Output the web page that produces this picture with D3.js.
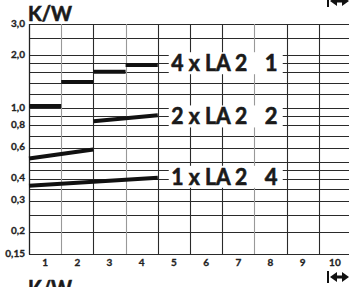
<!DOCTYPE html>
<html><head><meta charset="utf-8">
<script src="https://cdn.jsdelivr.net/npm/d3@7"></script>
<style>html,body{margin:0;padding:0;background:#fff;overflow:hidden}</style>
</head><body><svg id="c" width="349" height="287"></svg>
<script>
// ---- data ----
const xTickLabels = ["1","2","3","4","5","6","7","8","9","10"];
const yTickValues = [3, 2, 1, 0.8, 0.6, 0.4, 0.3, 0.2, 0.15];
const yTickLabels = ["3,0","2,0","1,0","0,8","0,6","0,4","0,3","0,2","0,15"];
const gridValues = [3,2.5,2,1.8,1.6,1.4,1.2,1,0.9,0.8,0.7,0.6,0.5,0.45,0.4,0.35,0.3,0.25,0.2,0.15];
const greyColumns = [1,3,7];
// series segments: [xStart, xEnd, valueStart, valueEnd]
const series4x = [[0,1,1.03,1.03],[1,2,1.41,1.41],[2,3,1.61,1.61],[3,4,1.76,1.76]];
const series2x = [[0,2,0.52,0.585],[2,4,0.845,0.915]];
const series1x = [[0,4,0.365,0.405]];
const labelMain = ["4 x LA 2","2 x LA 2","1 x LA 2"];
const labelSuffix = ["1","2","4"];
const labelLevel = [1.8, 0.9, 0.41];

const svg = d3.select("#c");
const x = d3.scaleLinear().domain([0,10]).range([29, 351]);
const y = d3.scaleLog().domain([0.15,3]).range([254, 24]);
const font = "Lato, 'DejaVu Sans', sans-serif";

// grid
const g = svg.append("g");
g.selectAll("line.h").data(gridValues).join("line")
  .attr("x1", x(0)).attr("x2", 349)
  .attr("y1", d => Math.round(y(d))+0.5).attr("y2", d => Math.round(y(d))+0.5)
  .attr("stroke", "#2a2a2a").attr("stroke-width", 1.1);
g.selectAll("line.v").data(d3.range(1,10)).join("line")
  .attr("x1", d => Math.round(x(d))+0.5).attr("x2", d => Math.round(x(d))+0.5)
  .attr("y1", y(3)).attr("y2", y(0.15))
  .attr("stroke", d => greyColumns.includes(d) ? "#999" : "#2a2a2a").attr("stroke-width", 1.1);
g.append("line").attr("x1", x(0)+0.5).attr("x2", x(0)+0.5).attr("y1", y(3)).attr("y2", y(0.15)+0.5)
  .attr("stroke","#222").attr("stroke-width",1.3);

// series
[series4x, series2x, series1x].forEach(s => {
  svg.append("g").selectAll("line").data(s).join("line")
    .attr("x1", d => x(d[0])).attr("x2", d => x(d[1]))
    .attr("y1", d => y(d[2])).attr("y2", d => y(d[3]))
    .attr("stroke", "#111").attr("stroke-width", 4);
});

// labels with white boxes
labelMain.forEach((t, i) => {
  const cy = y(labelLevel[i]);
  const lg = svg.append("g");
  const rect = lg.append("rect").attr("fill","#fff");
  lg.append("text").attr("x", x(4.42)).attr("y", cy).attr("dy","0.36em")
    .attr("font-family", font).attr("font-weight", 700).attr("font-size", 22)
    .attr("fill","#1a1a1a").attr("stroke","#1a1a1a").attr("stroke-width",0.6)
    .attr("textLength", 76).attr("lengthAdjust","spacingAndGlyphs").text(t);
  lg.append("text").attr("x", x(7.72)).attr("y", cy).attr("dy","0.36em").attr("text-anchor","end")
    .attr("font-family", font).attr("font-weight", 700).attr("font-size", 22)
    .attr("fill","#1a1a1a").attr("stroke","#1a1a1a").attr("stroke-width",0.6).text(labelSuffix[i]);
  rect.attr("x", x(4.34)).attr("width", x(7.88)-x(4.34)).attr("y", cy-11).attr("height", 22);
});

// y tick labels
svg.append("g").selectAll("text").data(yTickValues).join("text")
  .attr("x", 25).attr("y", d => y(d)-1).attr("dy","0.35em").attr("text-anchor","end")
  .attr("font-family", font).attr("font-weight", 700).attr("font-size", 10).attr("fill","#222")
  .attr("stroke","#222").attr("stroke-width",0.3)
  .text((d,i) => yTickLabels[i]);
// x tick labels
svg.append("g").selectAll("text").data(xTickLabels).join("text")
  .attr("x", (d,i) => x(i+0.5)).attr("y", 262).attr("dy","0.35em").attr("text-anchor","middle")
  .attr("font-family", font).attr("font-weight", 700).attr("font-size", 10).attr("fill","#222")
  .attr("stroke","#222").attr("stroke-width",0.3)
  .text(d => d);

// titles
svg.append("text").attr("x", 28).attr("y", 20.5).attr("font-family", font).attr("font-weight", 700)
  .attr("font-size", 20).attr("fill","#1a1a1a").attr("stroke","#1a1a1a").attr("stroke-width",0.6)
  .attr("textLength", 44).attr("lengthAdjust","spacingAndGlyphs").text("K/W");
svg.append("text").attr("x", 28).attr("y", 297).attr("font-family", font).attr("font-weight", 700)
  .attr("font-size", 22).attr("fill","#1a1a1a").attr("stroke","#1a1a1a").attr("stroke-width",0.6)
  .attr("textLength", 44).attr("lengthAdjust","spacingAndGlyphs").text("K/W");

// double arrows
function arrow(cy) {
  const a = svg.append("g").attr("fill","#111");
  a.append("rect").attr("x",327).attr("y",cy-6).attr("width",2).attr("height",12);
  a.append("path").attr("d",`M330,${cy} L337,${cy-5} L337,${cy+5} Z`);
  a.append("rect").attr("x",336).attr("y",cy-1.5).attr("width",7).attr("height",3);
  a.append("path").attr("d",`M349,${cy} L342,${cy-5} L342,${cy+5} Z`);
}
arrow(277);
arrow(1);
</script>
</body></html>
